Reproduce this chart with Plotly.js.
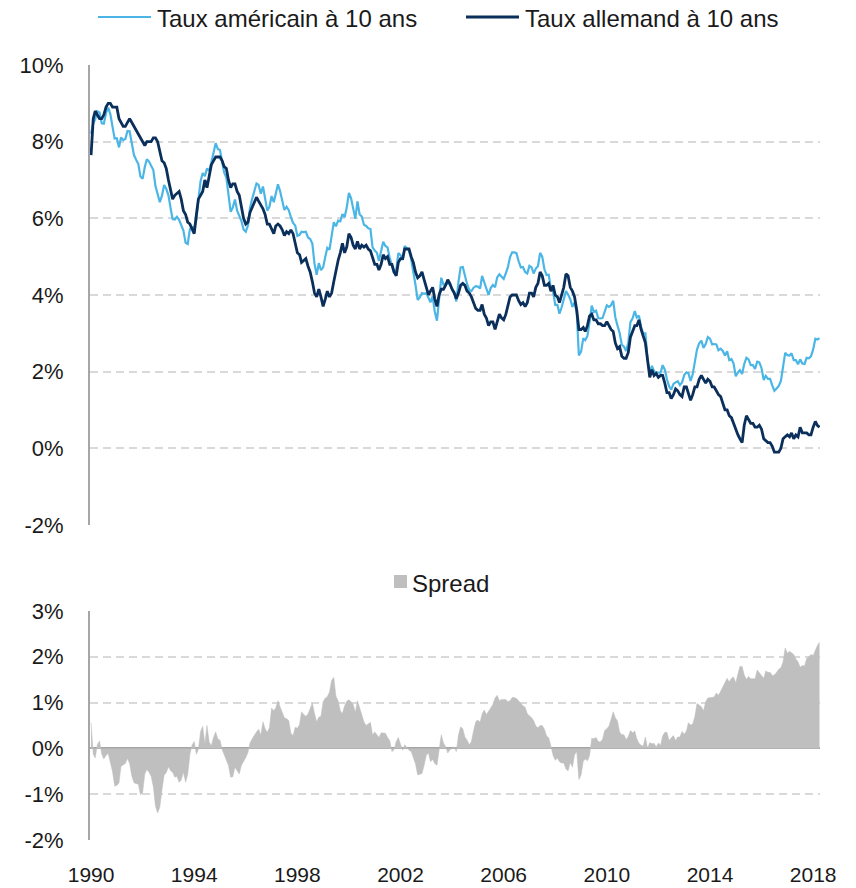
<!DOCTYPE html>
<html><head><meta charset="utf-8">
<script src="https://cdn.plot.ly/plotly-3.0.1.min.js"></script>
<style>html,body{margin:0;padding:0;background:#fff}#chart{width:856px;height:888px}</style>
</head><body><div id="chart"></div>
<script>
// Monthly 10-year yields (%), Jan 1990 - Apr 2018
const startYear = 1990;
const usYield = [
8.21,8.47,8.59,8.79,8.76,8.48,8.47,8.75,8.89,8.72,8.39,8.08,
8.09,7.85,8.11,8.04,8.07,8.28,8.27,7.90,7.65,7.53,7.42,7.09,
7.03,7.34,7.54,7.48,7.39,7.26,6.84,6.59,6.42,6.59,6.87,6.77,
6.60,6.26,5.98,5.97,6.04,5.96,5.81,5.68,5.36,5.33,5.72,5.77,
5.75,5.97,6.48,6.97,7.18,7.10,7.30,7.24,7.46,7.74,7.96,7.81,
7.78,7.47,7.20,7.06,6.63,6.17,6.28,6.49,6.20,6.04,5.93,5.71,
5.65,5.81,6.27,6.51,6.74,6.91,6.87,6.64,6.83,6.53,6.20,6.30,
6.58,6.42,6.69,6.89,6.71,6.49,6.22,6.30,6.21,6.03,5.88,5.81,
5.54,5.57,5.65,5.64,5.65,5.50,5.46,5.34,4.81,4.53,4.83,4.65,
4.72,5.00,5.23,5.18,5.54,5.90,5.79,5.94,5.92,6.11,6.03,6.28,
6.66,6.52,6.26,5.99,6.44,6.10,6.05,5.83,5.80,5.74,5.72,5.24,
5.16,5.10,4.89,5.14,5.39,5.28,5.24,4.97,4.73,4.57,4.65,5.09,
5.04,4.91,5.28,5.21,5.16,4.93,4.65,4.26,3.87,3.94,4.05,4.03,
4.05,3.90,3.81,3.96,3.57,3.33,3.98,4.45,4.27,4.29,4.30,4.27,
4.15,4.08,3.83,4.35,4.72,4.73,4.50,4.28,4.13,4.10,4.19,4.23,
4.22,4.17,4.50,4.34,4.14,4.00,4.18,4.26,4.20,4.46,4.54,4.47,
4.42,4.57,4.72,4.99,5.11,5.11,5.09,4.88,4.72,4.73,4.60,4.56,
4.76,4.72,4.56,4.69,4.75,5.10,5.00,4.67,4.52,4.53,4.15,4.10,
3.74,3.74,3.51,3.68,3.88,4.10,4.01,3.89,3.69,3.81,3.53,2.42,
2.52,2.87,2.82,2.93,3.29,3.72,3.56,3.59,3.40,3.39,3.40,3.59,
3.73,3.69,3.73,3.85,3.42,3.20,3.01,2.70,2.65,2.54,2.76,3.29,
3.39,3.58,3.41,3.46,3.17,3.00,3.00,2.30,1.98,2.15,2.01,1.98,
1.97,1.97,2.17,2.05,1.80,1.62,1.53,1.68,1.72,1.75,1.65,1.72,
1.91,1.98,1.96,1.76,1.93,2.30,2.58,2.74,2.81,2.62,2.72,2.90,
2.86,2.71,2.72,2.71,2.56,2.60,2.54,2.42,2.53,2.30,2.33,2.21,
1.88,1.98,2.04,1.94,2.20,2.36,2.32,2.17,2.17,2.07,2.26,2.24,
2.09,1.78,1.89,1.81,1.81,1.64,1.50,1.56,1.63,1.76,2.14,2.49,
2.43,2.42,2.48,2.30,2.30,2.19,2.32,2.21,2.20,2.36,2.35,2.40,
2.58,2.86,2.84,2.87
];
const deYield = [
7.65,8.60,8.80,8.70,8.60,8.60,8.70,8.90,9.00,9.00,8.90,8.90,
8.90,8.60,8.50,8.40,8.40,8.50,8.60,8.50,8.40,8.30,8.20,8.10,
8.00,7.90,8.00,8.00,8.00,8.10,8.10,8.00,7.70,7.50,7.45,7.30,
7.00,6.75,6.50,6.60,6.65,6.70,6.50,6.20,6.10,5.90,5.85,5.70,
5.60,6.10,6.50,6.60,6.70,7.00,6.80,7.10,7.40,7.50,7.60,7.60,
7.60,7.50,7.35,7.30,7.00,6.80,6.90,6.90,6.70,6.60,6.30,6.00,
5.85,5.90,6.15,6.30,6.45,6.55,6.45,6.35,6.25,6.10,5.85,5.85,
5.70,5.60,5.80,5.85,5.80,5.70,5.55,5.65,5.60,5.70,5.60,5.35,
5.10,5.05,4.85,4.90,4.95,4.75,4.60,4.35,4.05,3.95,4.15,3.95,
3.70,3.90,4.10,3.95,4.05,4.35,4.65,4.90,5.10,5.35,5.10,5.25,
5.60,5.50,5.30,5.20,5.40,5.20,5.30,5.25,5.30,5.20,5.15,4.95,
4.80,4.80,4.65,4.80,5.05,4.95,5.00,4.80,4.80,4.60,4.50,4.85,
4.95,4.95,5.20,5.20,5.20,5.00,4.85,4.60,4.45,4.50,4.60,4.40,
4.20,4.00,4.10,4.20,3.90,3.70,4.00,4.15,4.15,4.25,4.40,4.30,
4.15,4.05,3.90,4.05,4.25,4.30,4.25,4.10,4.05,3.95,3.80,3.65,
3.60,3.60,3.75,3.50,3.40,3.20,3.30,3.30,3.10,3.30,3.50,3.40,
3.35,3.50,3.70,3.95,4.00,4.00,4.00,3.85,3.75,3.80,3.70,3.80,
4.05,4.05,3.95,4.20,4.30,4.60,4.50,4.25,4.25,4.30,4.10,4.25,
4.00,3.95,3.80,4.00,4.20,4.55,4.50,4.20,4.10,3.95,3.60,3.10,
3.10,3.15,3.05,3.20,3.45,3.50,3.35,3.35,3.25,3.25,3.20,3.20,
3.30,3.20,3.10,3.05,2.75,2.60,2.65,2.40,2.35,2.35,2.50,2.90,
3.05,3.20,3.20,3.35,3.10,2.95,2.75,2.30,1.85,2.05,1.90,1.95,
1.85,1.90,1.90,1.70,1.45,1.45,1.30,1.40,1.55,1.50,1.40,1.35,
1.60,1.60,1.40,1.25,1.40,1.60,1.60,1.80,1.90,1.80,1.70,1.80,
1.75,1.60,1.60,1.50,1.40,1.35,1.20,1.00,1.00,0.85,0.80,0.65,
0.45,0.35,0.25,0.15,0.60,0.85,0.75,0.65,0.65,0.55,0.55,0.60,
0.50,0.25,0.20,0.15,0.15,0.05,-0.10,-0.10,-0.10,0.00,0.25,0.30,
0.35,0.30,0.40,0.25,0.35,0.30,0.55,0.40,0.40,0.40,0.35,0.35,
0.55,0.70,0.60,0.55
];
const tickYears = ['1990','1994','1998','2002','2006','2010','2014','2018'];
const topTicks = [-2,0,2,4,6,8,10];
const bottomTicks = [-2,-1,0,1,2,3];
const seriesNames = ['Taux américain à 10 ans','Taux allemand à 10 ans','Spread'];

const dates = usYield.map((_, i) => {
  const y = startYear + Math.floor(i / 12), m = i % 12 + 1;
  return y + '-' + String(m).padStart(2, '0') + '-01';
});
const spread = usYield.map((v, i) => +(v - deYield[i]).toFixed(2));

const C_US = '#4BB6E6', C_DE = '#0B2F5B', C_SP = '#BFBFBF';
const GRID = '#D9D9D9', AXIS = '#A6A6A6';
const FONT = 'Liberation Sans, Arial, sans-serif';
const xr = ['1989-12-17', '2018-04-08'];

const traces = [
  {x: dates, y: usYield, name: seriesNames[0], type: 'scatter', mode: 'lines',
   line: {color: C_US, width: 2.2}, xaxis: 'x', yaxis: 'y', hoverinfo: 'skip'},
  {x: dates, y: deYield, name: seriesNames[1], type: 'scatter', mode: 'lines',
   line: {color: C_DE, width: 2.8}, xaxis: 'x', yaxis: 'y', hoverinfo: 'skip'},
  {x: dates, y: spread, name: seriesNames[2], type: 'scatter', mode: 'lines',
   fill: 'tozeroy', fillcolor: C_SP, line: {color: C_SP, width: 0.5},
   xaxis: 'x2', yaxis: 'y2', hoverinfo: 'skip'}
];

const tickFont = {family: FONT, size: 22, color: '#1a1a1a'};
const yCommon = {
  showline: true, linecolor: AXIS, linewidth: 2,
  showgrid: true, gridcolor: GRID, gridwidth: 2, griddash: '8px,5px',
  ticks: '', tickfont: tickFont, ticklabelstandoff: 20, fixedrange: true
};
const P = (px) => (px - 90) / 730;
const Q = (py) => (840 - py) / 775;

const layout = {
  width: 856, height: 888,
  margin: {l: 90, r: 36, t: 65, b: 48},
  paper_bgcolor: '#fff', plot_bgcolor: '#fff',
  showlegend: false,
  font: {family: FONT, color: '#1a1a1a'},
  xaxis: {domain: [0, 1], anchor: 'y', type: 'date', range: xr,
    showticklabels: false, showgrid: false, zeroline: false, showline: false, ticks: ''},
  yaxis: Object.assign({}, yCommon, {domain: [0.4065, 1], range: [-2, 10],
    tickvals: topTicks, ticktext: topTicks.map(v => v + '%'), zeroline: false}),
  xaxis2: {domain: [0, 1], anchor: 'y2', type: 'date', range: xr,
    tickvals: tickYears.map(y => y + '-01-01'), ticktext: tickYears,
    showgrid: false, zeroline: false, showline: false, ticks: '',
    tickfont: {family: FONT, size: 21, color: '#1a1a1a'}, ticklabelstandoff: 20},
  yaxis2: Object.assign({}, yCommon, {domain: [0, 0.2955], range: [-2, 3],
    tickvals: bottomTicks, ticktext: bottomTicks.map(v => v + '%'),
    zeroline: true, zerolinecolor: AXIS, zerolinewidth: 2}),
  shapes: [
    {type: 'line', xref: 'paper', yref: 'paper', x0: P(98), x1: P(151), y0: Q(17), y1: Q(17),
     line: {color: C_US, width: 2.2}},
    {type: 'line', xref: 'paper', yref: 'paper', x0: P(466), x1: P(519), y0: Q(17), y1: Q(17),
     line: {color: C_DE, width: 2.8}},
    {type: 'rect', xref: 'paper', yref: 'paper', x0: P(394), x1: P(407), y0: Q(588), y1: Q(575),
     fillcolor: C_SP, line: {width: 0}}
  ],
  annotations: [
    {text: seriesNames[0], xref: 'paper', yref: 'paper', x: P(155), y: Q(18),
     xanchor: 'left', yanchor: 'middle', showarrow: false, font: {family: FONT, size: 24, color: '#1a1a1a'}},
    {text: seriesNames[1], xref: 'paper', yref: 'paper', x: P(523), y: Q(18),
     xanchor: 'left', yanchor: 'middle', showarrow: false, font: {family: FONT, size: 24, color: '#1a1a1a'}},
    {text: seriesNames[2], xref: 'paper', yref: 'paper', x: P(410), y: Q(583),
     xanchor: 'left', yanchor: 'middle', showarrow: false, font: {family: FONT, size: 24, color: '#1a1a1a'}}
  ]
};

Plotly.newPlot('chart', traces, layout, {displayModeBar: false, staticPlot: true});
</script></body></html>
